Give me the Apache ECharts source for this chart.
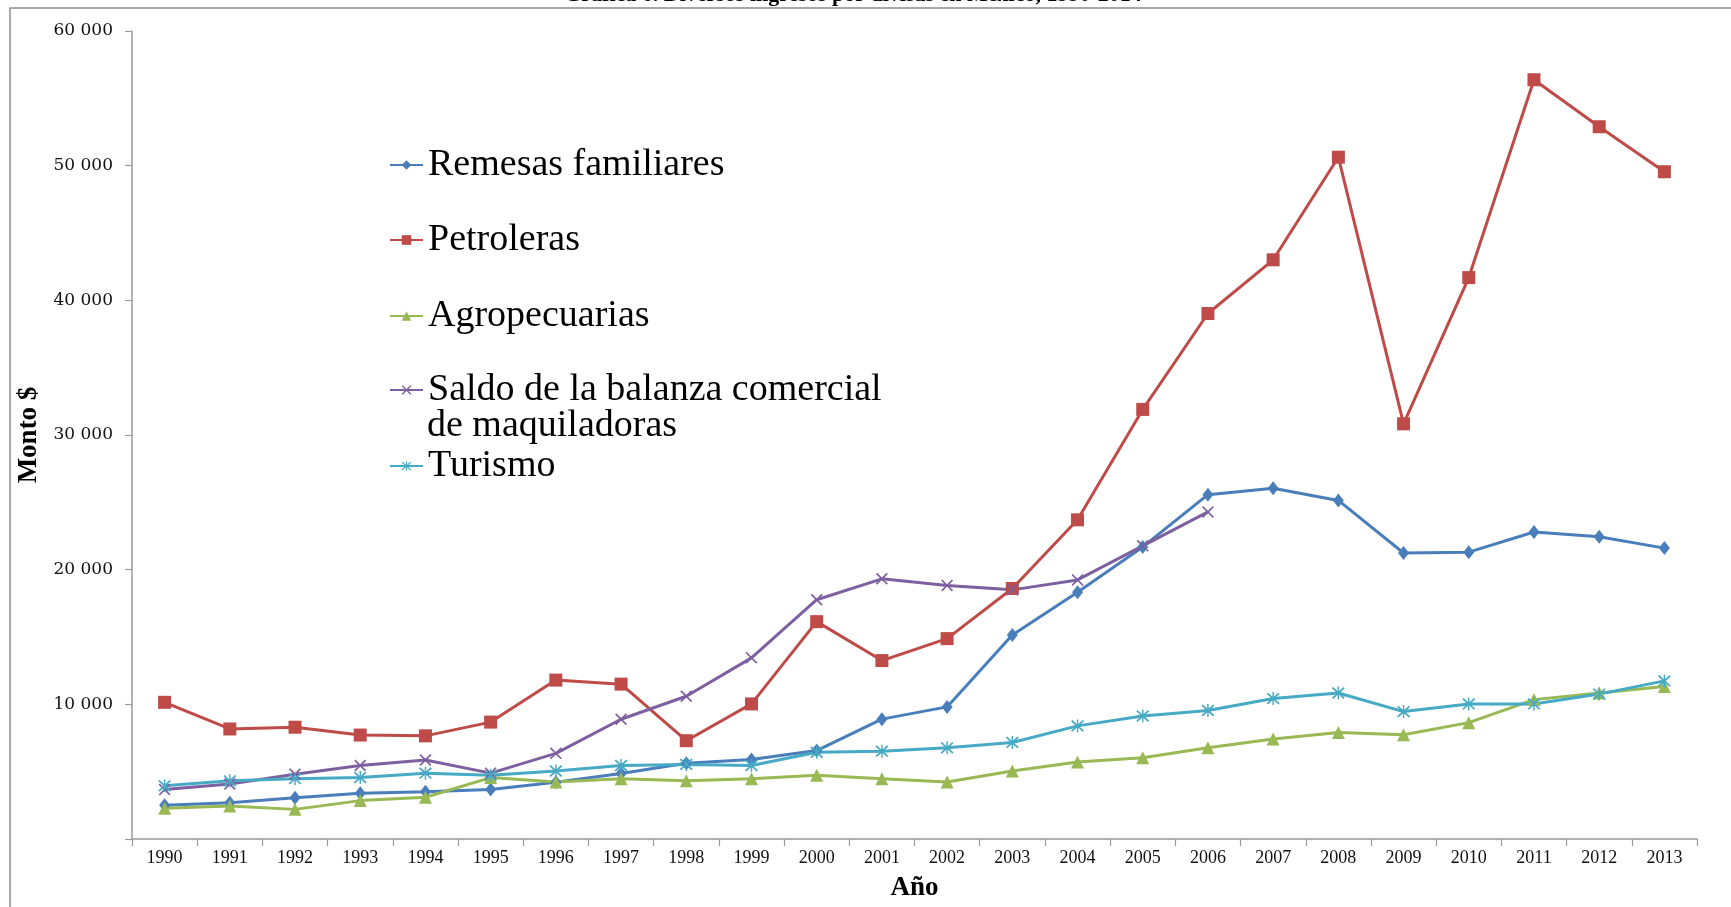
<!DOCTYPE html>
<html>
<head>
<meta charset="utf-8">
<script src="https://cdn.jsdelivr.net/npm/echarts@6/dist/echarts.min.js"></script>
<style>
  html, body { margin: 0; padding: 0; background: #fff; }
  #chart { width: 1731px; height: 907px; }
</style>
</head>
<body>
<div id="chart"></div>
<script>
// Ingresos por divisas en México (millones de dólares), 1990-2013
const years = ['1990','1991','1992','1993','1994','1995','1996','1997','1998','1999','2000','2001',
               '2002','2003','2004','2005','2006','2007','2008','2009','2010','2011','2012','2013'];

const remesas = [2500, 2700, 3070, 3400, 3500, 3670, 4220, 4860, 5630, 5910, 6570, 8900,
                 9810, 15140, 18330, 21690, 25570, 26050, 25140, 21240, 21300, 22800, 22440, 21600];

const petroleras = [10150, 8170, 8300, 7720, 7660, 8680, 11800, 11500, 7300, 10030, 16140, 13250,
                    14880, 18600, 23700, 31900, 39020, 43010, 50630, 30830, 41690, 56380, 52890, 49550];

const agropecuarias = [2280, 2450, 2200, 2850, 3100, 4560, 4240, 4480, 4320, 4480, 4730, 4480,
                       4240, 5050, 5710, 6030, 6770, 7420, 7910, 7740, 8640, 10350, 10840, 11330];

// Serie disponible sólo hasta 2006
const maquiladoras = [3670, 4080, 4810, 5460, 5870, 4890, 6360, 8890, 10600, 13450, 17770, 19320,
                      18830, 18500, 19240, 21770, 24290];

const turismo = [3950, 4320, 4480, 4560, 4890, 4730, 5050, 5460, 5540, 5460, 6440, 6520,
                 6770, 7170, 8400, 9130, 9540, 10430, 10840, 9460, 10030, 10030, 10760, 11740];

const seriesNames = ['Remesas familiares', 'Petroleras', 'Agropecuarias',
                     'Saldo de la balanza comercial', 'Turismo'];
const titleText = 'Gráfica 6. Diversos ingresos por divisas en México, 1990-2014';
const legendSecondLine = 'de maquiladoras';

const yTicks = { min: 0, max: 60000, step: 10000 };

const colors = ['#4A7EBB', '#BE4B48', '#98B954', '#7D60A0', '#46AAC5'];

// Marcadores en forma de aspa y de asterisco (trazos rellenos)
const crossPath = 'path://M1,0L5,4L9,0L10,1L6,5L10,9L9,10L5,6L1,10L0,9L4,5L0,1Z';
const starPath = 'path://M1,0L5,4L9,0L10,1L6,5L10,9L9,10L5,6L1,10L0,9L4,5L0,1Z M4.45,-0.5L5.55,-0.5L5.55,10.5L4.45,10.5Z';

const serif = '"Liberation Serif", "Times New Roman", serif';
const wideSerif = '"DejaVu Serif", serif';

function fmtThousands(v) {
  if (v === 0) return '';
  return String(v).replace(/\B(?=(\d{3})+(?!\d))/g, ' ');
}

function lineSeries(name, data, color, symbol, symbolSize) {
  return {
    name: name,
    type: 'line',
    data: data,
    color: color,
    symbol: symbol,
    symbolSize: symbolSize,
    showAllSymbol: true,
    lineStyle: { color: color, width: 3 },
    itemStyle: { color: color },
    emphasis: { disabled: true },
    animation: false,
    z: 3
  };
}

// Cada entrada de la leyenda se coloca por separado
const legendRows = [165, 240, 316, 390, 466];
const legendFont = 38;
const legendLineH = 40;
const legends = seriesNames.map((n, i) => ({
  data: [n],
  orient: 'vertical',
  left: 389,
  top: legendRows[i] - legendLineH / 2,
  padding: 0,
  itemWidth: 33,
  itemHeight: 12,
  itemGap: 0,
  selectedMode: false,
  textStyle: {
    fontFamily: serif,
    fontSize: legendFont,
    lineHeight: legendLineH,
    color: '#000'
  }
}));

const chart = echarts.init(document.getElementById('chart'), null, { renderer: 'canvas' });

chart.setOption({
  backgroundColor: '#fff',
  animation: false,
  grid: { left: 132, right: 34, top: 31, bottom: 64, containLabel: false },
  legend: legends,
  xAxis: {
    type: 'category',
    data: years,
    boundaryGap: true,
    name: 'Año',
    nameLocation: 'middle',
    nameGap: 36,
    nameTextStyle: { fontFamily: serif, fontWeight: 'bold', fontSize: 27, color: '#000' },
    axisLine: { lineStyle: { color: '#9a9a9a', width: 1.5 } },
    axisTick: { show: true, alignWithLabel: false, length: 7, lineStyle: { color: '#9a9a9a', width: 1.2 } },
    axisLabel: { fontFamily: serif, fontSize: 18, color: '#111', margin: 10, interval: 0 },
    splitLine: { show: false }
  },
  yAxis: {
    type: 'value',
    min: yTicks.min,
    max: yTicks.max,
    interval: yTicks.step,
    name: 'Monto $',
    nameLocation: 'middle',
    nameGap: 88,
    nameRotate: 90,
    nameTextStyle: { fontFamily: serif, fontWeight: 'bold', fontSize: 27, color: '#000' },
    axisLine: { show: true, lineStyle: { color: '#9a9a9a', width: 1.5 } },
    axisTick: { show: true, length: 7, lineStyle: { color: '#9a9a9a', width: 1.2 } },
    axisLabel: { fontFamily: wideSerif, fontSize: 17, color: '#111', margin: 19, formatter: fmtThousands },
    splitLine: { show: false }
  },
  series: [
    lineSeries(seriesNames[0], remesas, colors[0], 'diamond', [11, 14]),
    lineSeries(seriesNames[1], petroleras, colors[1], 'rect', 13),
    lineSeries(seriesNames[2], agropecuarias, colors[2], 'triangle', 13),
    lineSeries(seriesNames[3], maquiladoras, colors[3], crossPath, 12),
    lineSeries(seriesNames[4], turismo, colors[4], starPath, 13)
  ],
  graphic: [
    {
      type: 'polyline',
      silent: true,
      shape: { points: [[10, 907], [10, 8], [1731, 8]] },
      style: { stroke: '#8c8c8c', lineWidth: 1.5, fill: null }
    },
    {
      type: 'text',
      silent: true,
      x: 853,
      y: 6,
      style: {
        text: titleText,
        fontFamily: serif,
        fontWeight: 'bold',
        fontSize: 22,
        fill: '#000',
        align: 'center',
        verticalAlign: 'bottom'
      }
    },
    {
      type: 'text',
      silent: true,
      x: 427,
      y: 426,
      style: {
        text: legendSecondLine,
        fontFamily: serif,
        fontSize: legendFont,
        fill: '#000',
        align: 'left',
        verticalAlign: 'middle'
      }
    }
  ]
});
</script>
</body>
</html>
